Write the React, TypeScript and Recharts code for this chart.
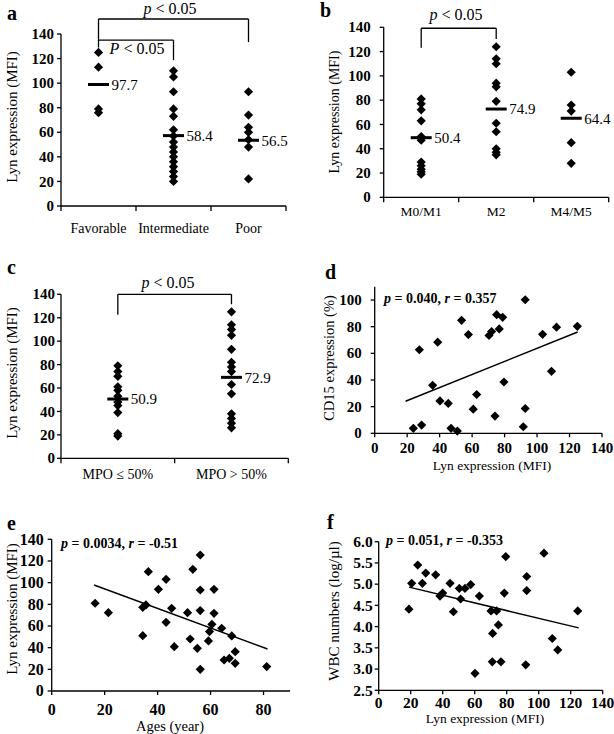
import { ReferenceLine, Scatter, ScatterChart, XAxis, YAxis } from "recharts";

const SERIF = '"Liberation Serif", "Times New Roman", serif';
const INK = "#000";

// a: Lyn expression by risk group
const riskGroups = ["Favorable", "Intermediate", "Poor"];
const riskFavorable = [125, 113, 79, 76];
const riskIntermediate = [110, 105, 93, 79, 73, 62, 57, 52, 48, 44, 40, 36, 32, 28, 24, 20];
const riskPoor = [93, 74, 64, 60, 54, 48, 22];
const riskMeans = [98.9, 57.3, 53.5];
const riskMeanLabels = ["97.7", "58.4", "56.5"];

// b: Lyn expression by FAB subtype
const fabGroups = ["M0/M1", "M2", "M4/M5"];
const fabM0M1 = [81, 77, 72, 63, 50, 47, 29, 26, 23, 21, 19];
const fabM2 = [124, 114, 110, 94, 91, 79, 61, 54, 40, 37, 35];
const fabM4M5 = [103, 76, 71, 45, 28];
const fabMeans = [49.1, 72.7, 65.1];
const fabMeanLabels = ["50.4", "74.9", "64.4"];

// c: Lyn expression by MPO positivity
const mpoGroups = ["MPO ≤ 50%", "MPO > 50%"];
const mpoLow = [79, 74, 70, 61, 58, 53, 48, 45, 39, 21, 19];
const mpoHigh = [125, 114, 110, 105, 93, 82, 78, 74, 63, 55, 38, 34, 30, 26];
const mpoMeans = [50.6, 69.1];
const mpoMeanLabels = ["50.9", "72.9"];

// d: CD15 vs Lyn
const cd15Lyn = [23.8, 28.9, 27.5, 35.7, 38.8, 40.2, 45.3, 47.0, 50.9, 53.5, 57.7, 60.7, 62.8, 70.4, 72.0, 74.1, 75.1, 78.8, 76.7, 79.6, 91.5, 92.7, 92.7, 103.4, 108.9, 112.0, 124.8];
const cd15Pct = [3.7, 6.2, 62.7, 36.0, 68.4, 24.3, 22.4, 3.7, 1.7, 84.8, 74.1, 18.1, 29.1, 73.4, 76.3, 12.9, 89.0, 87.0, 78.3, 38.5, 4.9, 100.2, 18.6, 74.3, 46.5, 79.6, 80.3];
const cd15TrendX = [19, 125];
const cd15TrendY = [24, 76];

// e: Lyn vs age
const ages = [16.4, 21.4, 34.4, 35.6, 36.5, 34.4, 40.3, 43.2, 43.2, 45.3, 46.3, 51.3, 52.3, 53.3, 56.1, 56.1, 56.1, 55.0, 56.1, 59.2, 59.6, 60.5, 61.3, 61.3, 64.2, 65.1, 67.1, 68.0, 69.3, 69.3, 81.2];
const ageLyn = [81.0, 72.3, 77.2, 79.4, 110.1, 51.1, 93.8, 103.1, 63.4, 76.3, 40.9, 72.3, 48.0, 112.3, 125.5, 93.2, 74.2, 39.4, 20.0, 46.2, 54.8, 61.5, 93.8, 71.7, 57.9, 28.6, 30.2, 50.8, 36.3, 25.5, 22.5];
const ageTrendX = [16, 81.5];
const ageTrendY = [97.8, 38.8];

// f: WBC vs Lyn
const wbcLyn = [18.9, 20.6, 24.4, 27.3, 29.4, 35.6, 38.3, 40.0, 44.6, 46.7, 50.4, 51.2, 53.9, 57.5, 62.9, 60.2, 70.2, 73.7, 74.8, 71.2, 71.0, 76.4, 78.5, 79.4, 92.5, 92.5, 91.9, 103.3, 108.5, 111.9, 124.4];
const wbcLog = [4.41, 5.02, 5.45, 5.02, 5.26, 5.22, 4.72, 4.79, 5.02, 4.35, 4.9, 4.65, 4.9, 4.99, 4.72, 2.9, 4.37, 4.37, 4.04, 3.84, 3.17, 3.17, 4.79, 5.65, 5.18, 4.85, 3.1, 5.73, 3.72, 3.45, 4.37];
const wbcTrendX = [19, 125];
const wbcTrendY = [4.93, 3.97];

const lynTicks = [0, 20, 40, 60, 80, 100, 120, 140];

const groupPoints = (groups: number[][]) => groups.flatMap((vals, i) => vals.map((y) => ({ x: i + 0.5, y })));
const meanPoints = (means: number[], labels: string[]) => means.map((y, i) => ({ x: i + 0.5, y, label: labels[i] }));
const pairPoints = (xs: number[], ys: number[]) => xs.map((x, i) => ({ x, y: ys[i] }));

function Diamond(props: any) {
  const { cx, cy } = props;
  if (cx == null || cy == null) return null;
  const r = 4.6;
  return <polygon points={`${cx},${cy - r} ${cx + r},${cy} ${cx},${cy + r} ${cx - r},${cy}`} fill={INK} />;
}

function MeanMark(props: any) {
  const { cx, cy, payload } = props;
  if (cx == null || cy == null) return null;
  return (
    <g>
      <line x1={cx - 10.5} x2={cx + 10.5} y1={cy} y2={cy} stroke={INK} strokeWidth={3} />
      <text x={cx + 13} y={cy} dy="0.36em" fontFamily={SERIF} fontSize={15} fill={INK}>
        {payload.label}
      </text>
    </g>
  );
}

function CategoryTick(props: any) {
  const { x, y, payload, labels, dy, font } = props;
  const v = payload.value;
  if (Number.isInteger(v)) return <line x1={x} x2={x} y1={y} y2={y + 5} stroke={INK} strokeWidth={1.3} />;
  return (
    <text x={x} y={y + dy} textAnchor="middle" fontFamily={SERIF} fontSize={font} fill={INK}>
      {labels[Math.floor(v)]}
    </text>
  );
}

function NumTick(props: any) {
  const { x, y, payload, side, font, fmt } = props;
  const label = fmt ? fmt(payload.value) : String(payload.value);
  const left = side === "left";
  return (
    <text
      x={x}
      y={y}
      dy={left ? "0.34em" : "0.72em"}
      textAnchor={left ? "end" : "middle"}
      fontFamily={SERIF}
      fontWeight="bold"
      fontSize={font}
      fill={INK}
    >
      {label}
    </text>
  );
}

interface Bracket {
  from: number;
  to: number;
  top: number;
  leftEnd: number;
  rightEnd: number;
}

const axisStyle = { stroke: INK, strokeWidth: 1.3 };

function CategoryPanel(p: {
  left: number;
  top: number;
  width: number;
  height: number;
  margin: { top: number; right: number; bottom: number; left: number };
  yAxisWidth: number;
  yTickMargin: number;
  groups: number[][];
  labels: string[];
  means: number[];
  meanLabels: string[];
  brackets: Bracket[];
  catDy: number;
  catFont: number;
}) {
  const n = p.labels.length;
  const xTicks = Array.from({ length: 2 * n + 1 }, (_, i) => i / 2);
  return (
    <div style={{ position: "absolute", left: p.left, top: p.top }}>
      <ScatterChart width={p.width} height={p.height} margin={p.margin}>
        <XAxis
          type="number"
          dataKey="x"
          domain={[0, n]}
          ticks={xTicks}
          interval={0}
          height={30}
          tickLine={false}
          tickSize={0}
          tickMargin={0}
          axisLine={axisStyle}
          tick={(t: any) => <CategoryTick {...t} labels={p.labels} dy={p.catDy} font={p.catFont} />}
        />
        <YAxis
          type="number"
          dataKey="y"
          domain={[0, 140]}
          ticks={lynTicks}
          interval={0}
          width={p.yAxisWidth}
          tickSize={4}
          tickMargin={p.yTickMargin}
          axisLine={axisStyle}
          tickLine={axisStyle}
          tick={(t: any) => <NumTick {...t} side="left" font={15} />}
        />
        {p.brackets.map((b, i) => (
          <g key={i}>
            <ReferenceLine ifOverflow="visible" stroke={INK} strokeWidth={1.3} segment={[{ x: b.from, y: b.top }, { x: b.to, y: b.top }]} />
            <ReferenceLine ifOverflow="visible" stroke={INK} strokeWidth={1.3} segment={[{ x: b.from, y: b.top }, { x: b.from, y: b.leftEnd }]} />
            <ReferenceLine ifOverflow="visible" stroke={INK} strokeWidth={1.3} segment={[{ x: b.to, y: b.top }, { x: b.to, y: b.rightEnd }]} />
          </g>
        ))}
        <Scatter data={groupPoints(p.groups)} shape={(s: any) => <Diamond {...s} />} isAnimationActive={false} />
        <Scatter data={meanPoints(p.means, p.meanLabels)} shape={(s: any) => <MeanMark {...s} />} isAnimationActive={false} />
      </ScatterChart>
    </div>
  );
}

function CorrelationPanel(p: {
  left: number;
  top: number;
  width: number;
  height: number;
  margin: { top: number; right: number; bottom: number; left: number };
  yAxisWidth: number;
  yTickMargin: number;
  xTickMargin: number;
  font: number;
  xs: number[];
  ys: number[];
  trendX: number[];
  trendY: number[];
  xDomain: [number, number];
  xTicks: number[];
  yDomain: [number, number];
  yTicks: number[];
  yFormat?: (v: number) => string;
}) {
  return (
    <div style={{ position: "absolute", left: p.left, top: p.top }}>
      <ScatterChart width={p.width} height={p.height} margin={p.margin}>
        <XAxis
          type="number"
          dataKey="x"
          domain={p.xDomain}
          ticks={p.xTicks}
          interval={0}
          height={30}
          tickSize={4}
          tickMargin={p.xTickMargin}
          axisLine={axisStyle}
          tickLine={axisStyle}
          tick={(t: any) => <NumTick {...t} side="bottom" font={p.font} />}
        />
        <YAxis
          type="number"
          dataKey="y"
          domain={p.yDomain}
          ticks={p.yTicks}
          interval={0}
          width={p.yAxisWidth}
          tickSize={4}
          tickMargin={p.yTickMargin}
          axisLine={axisStyle}
          tickLine={axisStyle}
          tick={(t: any) => <NumTick {...t} side="left" font={p.font} fmt={p.yFormat} />}
        />
        <ReferenceLine
          ifOverflow="visible"
          stroke={INK}
          strokeWidth={1.5}
          segment={[
            { x: p.trendX[0], y: p.trendY[0] },
            { x: p.trendX[1], y: p.trendY[1] },
          ]}
        />
        <Scatter data={pairPoints(p.xs, p.ys)} shape={(s: any) => <Diamond {...s} />} isAnimationActive={false} />
      </ScatterChart>
    </div>
  );
}

const txt = { fontFamily: SERIF, fill: INK } as const;

function Overlay() {
  const letter = { ...txt, fontSize: 20, fontWeight: "bold" as const };
  const ann = { ...txt, fontSize: 16 };
  const stat = { ...txt, fontSize: 14, fontWeight: "bold" as const };
  const title = { ...txt, fontSize: 15, textAnchor: "middle" as const };
  return (
    <svg width={614} height={734} style={{ position: "absolute", left: 0, top: 0, pointerEvents: "none" }}>
      <text x={7} y={20} {...letter}>a</text>
      <text x={320} y={17} {...letter}>b</text>
      <text x={7} y={274} {...letter}>c</text>
      <text x={325} y={279} {...letter}>d</text>
      <text x={7} y={530} {...letter}>e</text>
      <text x={327} y={529} {...letter}>f</text>

      <text x={170} y={14} textAnchor="middle" {...ann}><tspan fontStyle="italic">p</tspan> &lt; 0.05</text>
      <text x={137} y={54} textAnchor="middle" {...ann}><tspan fontStyle="italic">P</tspan> &lt; 0.05</text>
      <text x={456} y={20} textAnchor="middle" {...ann}><tspan fontStyle="italic">p</tspan> &lt; 0.05</text>
      <text x={168} y={288} textAnchor="middle" {...ann}><tspan fontStyle="italic">p</tspan> &lt; 0.05</text>

      <text x={384} y={303} {...stat}><tspan fontStyle="italic">p</tspan> = 0.040, <tspan fontStyle="italic">r</tspan> = 0.357</text>
      <text x={61} y={548} {...stat}><tspan fontStyle="italic">p</tspan> = 0.0034, <tspan fontStyle="italic">r</tspan> = -0.51</text>
      <text x={386} y={545} {...stat}><tspan fontStyle="italic">p</tspan> = 0.051, <tspan fontStyle="italic">r</tspan> = -0.353</text>

      <text transform="translate(12,117) rotate(-90)" dy="0.35em" {...title}>Lyn expression (MFI)</text>
      <text transform="translate(334,112) rotate(-90)" dy="0.35em" {...title} fontSize={14}>Lyn expression (MFI)</text>
      <text transform="translate(12,373) rotate(-90)" dy="0.35em" {...title}>Lyn expression (MFI)</text>
      <text transform="translate(329,358) rotate(-90)" dy="0.35em" {...title} fontSize={14.5}>CD15 expression (%)</text>
      <text transform="translate(12,609) rotate(-90)" dy="0.35em" {...title}>Lyn expression (MFI)</text>
      <text transform="translate(334,611) rotate(-90)" dy="0.35em" {...title}>WBC numbers (log/µl)</text>

      <text x={492} y={465} dy="0.35em" {...title} fontSize={13.5}>Lyn expression (MFI)</text>
      <text x={170} y={726} dy="0.35em" {...title} fontSize={14.5}>Ages (year)</text>
      <text x={485} y={718} dy="0.35em" {...title} fontSize={13.5}>Lyn expression (MFI)</text>
    </svg>
  );
}

export default function App() {
  return (
    <div style={{ position: "absolute", left: 0, top: 0, width: 614, height: 734, background: "#fff", overflow: "hidden" }}>
      <CategoryPanel
        left={0}
        top={0}
        width={300}
        height={245}
        margin={{ top: 34, right: 14, bottom: 9, left: 0 }}
        yAxisWidth={61}
        yTickMargin={3}
        groups={[riskFavorable, riskIntermediate, riskPoor]}
        labels={riskGroups}
        means={riskMeans}
        meanLabels={riskMeanLabels}
        brackets={[
          { from: 0.5, to: 2.5, top: 152.2, leftEnd: 129, rightEnd: 133.4 },
          { from: 0.5, to: 1.5, top: 135, leftEnd: 135, rightEnd: 118.7 },
        ]}
        catDy={27}
        catFont={14}
      />
      <CategoryPanel
        left={307}
        top={0}
        width={307}
        height={245}
        margin={{ top: 27.3, right: 5.3, bottom: 17.7, left: 0 }}
        yAxisWidth={76.7}
        yTickMargin={9}
        groups={[fabM0M1, fabM2, fabM4M5]}
        labels={fabGroups}
        means={fabMeans}
        meanLabels={fabMeanLabels}
        brackets={[{ from: 0.5, to: 1.5, top: 139.2, leftEnd: 123.2, rightEnd: 130.4 }]}
        catDy={19}
        catFont={13.5}
      />
      <CategoryPanel
        left={0}
        top={245}
        width={300}
        height={250}
        margin={{ top: 49.3, right: 11.7, bottom: 6.7, left: 0 }}
        yAxisWidth={61}
        yTickMargin={2}
        groups={[mpoLow, mpoHigh]}
        labels={mpoGroups}
        means={mpoMeans}
        meanLabels={mpoMeanLabels}
        brackets={[{ from: 0.5, to: 1.5, top: 140, leftEnd: 122.5, rightEnd: 131.5 }]}
        catDy={21}
        catFont={14}
      />
      <CorrelationPanel
        left={307}
        top={245}
        width={307}
        height={250}
        margin={{ top: 41.7, right: 12, bottom: 31.7, left: 0 }}
        yAxisWidth={67.7}
        yTickMargin={9}
        xTickMargin={5}
        font={15}
        xs={cd15Lyn}
        ys={cd15Pct}
        trendX={cd15TrendX}
        trendY={cd15TrendY}
        xDomain={[0, 140]}
        xTicks={lynTicks}
        yDomain={[0, 110]}
        yTicks={[0, 20, 40, 60, 80, 100]}
      />
      <CorrelationPanel
        left={0}
        top={490}
        width={300}
        height={244}
        margin={{ top: 49.3, right: 10, bottom: 13, left: 0 }}
        yAxisWidth={51.7}
        yTickMargin={4}
        xTickMargin={8}
        font={16}
        xs={ages}
        ys={ageLyn}
        trendX={ageTrendX}
        trendY={ageTrendY}
        xDomain={[0, 90]}
        xTicks={[0, 20, 40, 60, 80]}
        yDomain={[0, 140]}
        yTicks={lynTicks}
      />
      <CorrelationPanel
        left={307}
        top={490}
        width={307}
        height={244}
        margin={{ top: 51.7, right: 11.3, bottom: 13.7, left: 0 }}
        yAxisWidth={71.7}
        yTickMargin={2}
        xTickMargin={3}
        font={15.5}
        xs={wbcLyn}
        ys={wbcLog}
        trendX={wbcTrendX}
        trendY={wbcTrendY}
        xDomain={[0, 140]}
        xTicks={lynTicks}
        yDomain={[2.5, 6]}
        yTicks={[2.5, 3, 3.5, 4, 4.5, 5, 5.5, 6]}
        yFormat={(v: number) => v.toFixed(1)}
      />
      <Overlay />
    </div>
  );
}
